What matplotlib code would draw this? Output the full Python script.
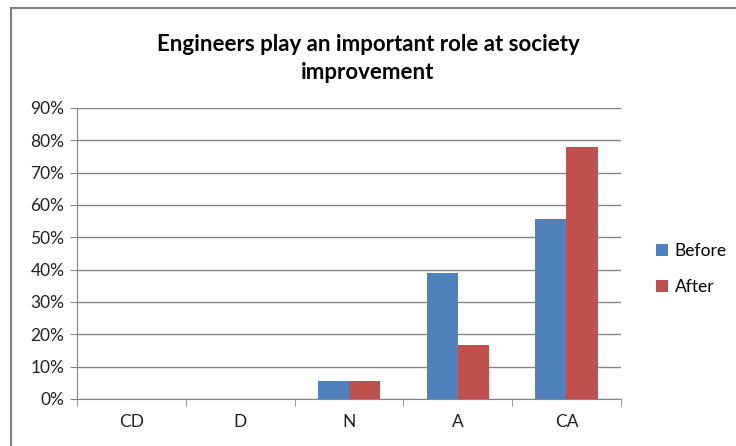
import numpy as np
import matplotlib.pyplot as plt
from matplotlib.lines import Line2D
from matplotlib.ticker import PercentFormatter

categories = ['CD', 'D', 'N', 'A', 'CA']
before = [0.0, 0.0, 5.6, 38.9, 55.6]
after = [0.0, 0.0, 5.6, 16.7, 77.8]

plt.rcParams['font.family'] = ['Lato', 'DejaVu Sans']

fig = plt.figure(figsize=(7.36, 4.46), dpi=100)
ax = fig.add_axes([0.1046, 0.1054, 0.739, 0.6525])

x = np.arange(len(categories))
w = 0.285
ax.bar(x - w/2, before, w, color='#4F81BD', label='Before', zorder=3)
ax.bar(x + w/2, after, w, color='#C0504D', label='After', zorder=3)

ax.set_xlim(-0.5, len(categories) - 0.5)
ax.set_ylim(0, 90)
ax.set_yticks(np.arange(0, 91, 10))
ax.yaxis.set_major_formatter(PercentFormatter(decimals=0))
ax.yaxis.grid(True, color='#868686', linewidth=1, zorder=0)

ax.set_xticks(x)
ax.set_xticklabels(categories)
ax.set_xticks(np.arange(-0.5, len(categories), 1), minor=True)
ax.tick_params(axis='x', which='major', length=0, pad=11, labelsize=12.5, colors='#222222')
ax.tick_params(axis='x', which='minor', length=5, color='#868686', direction='out')
ax.tick_params(axis='y', length=5, color='#868686', labelsize=12.5, labelcolor='#222222', pad=4)

for s in ['top', 'right']:
    ax.spines[s].set_visible(False)
for s in ['left', 'bottom']:
    ax.spines[s].set_color('#868686')

fig.text(0.500, 0.868, 'Engineers play an important role at society\nimprovement',
         ha='center', va='center', fontsize=16, fontweight='bold', linespacing=1.4)

leg = ax.legend(loc='upper left', bbox_to_anchor=(1.035, 0.59), frameon=False,
                fontsize=12.5, handlelength=0.7, handleheight=0.7, handletextpad=0.4,
                labelspacing=1.15)

# frame around the chart
fig.add_artist(Line2D([11/736, 11/736], [0, 1 - 8/446], color='#7f7f7f', lw=1.5))
fig.add_artist(Line2D([11/736, 1], [1 - 8/446, 1 - 8/446], color='#7f7f7f', lw=1.5))

fig.savefig('out.png', dpi=100)
